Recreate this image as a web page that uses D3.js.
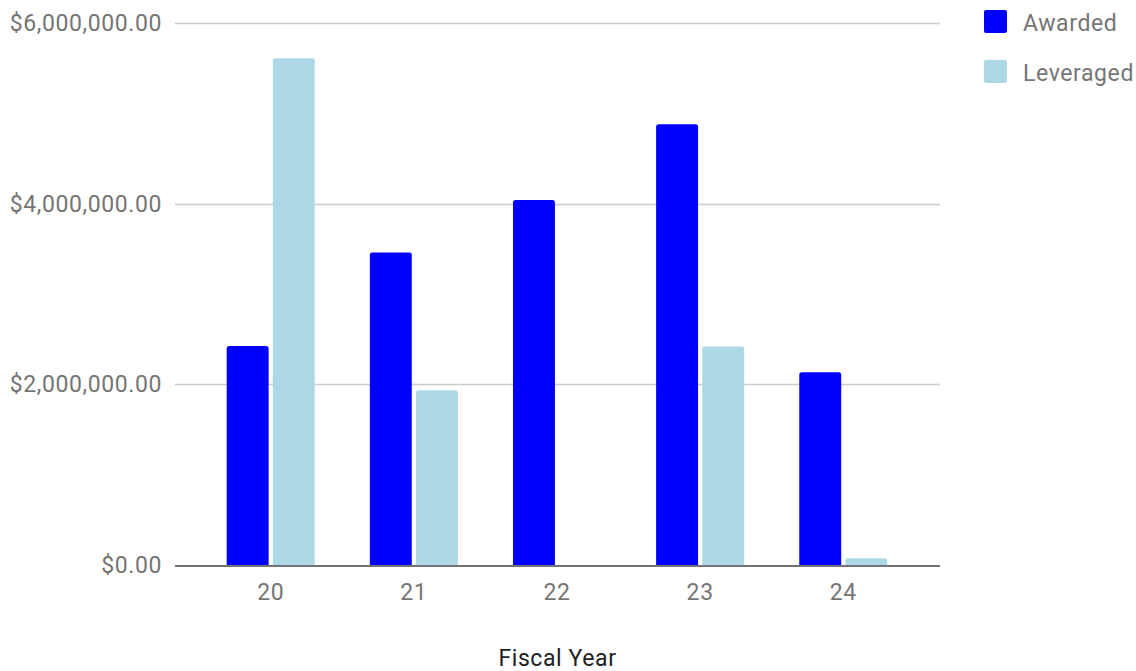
<!DOCTYPE html>
<html>
<head>
<meta charset="utf-8">
<script src="https://cdn.jsdelivr.net/npm/d3@7"></script>
<style>
  html, body { margin: 0; padding: 0; background: #fff; }
  svg { display: block; font-family: Roboto, "Noto Sans", sans-serif; }
  .lbl { font-size: 23px; letter-spacing: 0.6px; font-family: Roboto, sans-serif; }
</style>
</head>
<body>
<svg id="chart" width="1136" height="671"></svg>
<script>
// Fiscal years and the two funding series (US dollars)
const fiscalYears = ["20", "21", "22", "23", "24"];
const seriesNames = ["Awarded", "Leveraged"];
const awarded   = [2425000, 3460000, 4040000, 4880000, 2135000];
const leveraged = [5610000, 1935000, 0, 2420000, 75000];
const yTicks = [0, 2000000, 4000000, 6000000];
const seriesColors = ["#0000ff", "#add8e6"];

const svg = d3.select("#chart");
const plot = { left: 175, right: 940, top: 23, bottom: 565 };

const rows = fiscalYears.map((fy, i) => ({ fy, values: [awarded[i], leveraged[i]] }));

const y = d3.scaleLinear().domain([0, 6000000]).range([plot.bottom, plot.top]);
const x0 = d3.scaleBand().domain(fiscalYears).range([199.5, 914.5]).paddingInner(0.385).paddingOuter(0.19);
const x1 = d3.scaleBand().domain(seriesNames).range([0, x0.bandwidth()]).paddingInner(0.09);

const money = d3.format("$,.2f");

// horizontal gridlines
svg.append("g")
  .selectAll("line")
  .data(yTicks.filter(t => t > 0))
  .join("line")
  .attr("x1", plot.left).attr("x2", plot.right)
  .attr("y1", d => Math.round(y(d)) + 0.5).attr("y2", d => Math.round(y(d)) + 0.5)
  .attr("stroke", "#cccccc").attr("stroke-width", 1.5);

// y axis labels
const yAxis = svg.append("g")
  .attr("transform", `translate(${plot.left},0)`)
  .call(d3.axisLeft(y).tickValues(yTicks).tickFormat(money).tickSize(0).tickPadding(13));
yAxis.select(".domain").remove();
yAxis.selectAll("text").attr("class", "lbl").attr("fill", "#757575").attr("font-size", null).attr("font-family", null);

// bars
const groups = svg.append("g")
  .selectAll("g")
  .data(rows)
  .join("g")
  .attr("transform", d => `translate(${x0(d.fy)},0)`);

function topRounded(xp, yp, w, h, r) {
  if (h <= 0) return "";
  r = Math.min(r, h, w / 2);
  return `M${xp},${yp + h}V${yp + r}Q${xp},${yp} ${xp + r},${yp}H${xp + w - r}Q${xp + w},${yp} ${xp + w},${yp + r}V${yp + h}Z`;
}

groups.selectAll("path")
  .data(d => d.values.map((v, i) => ({ key: seriesNames[i], v, i })))
  .join("path")
  .attr("d", d => topRounded(x1(d.key), y(d.v), x1.bandwidth(), y(0) - y(d.v), 2.5))
  .attr("fill", d => seriesColors[d.i]);

// x axis baseline and labels
const xAxis = svg.append("g")
  .attr("transform", `translate(0,${plot.bottom})`)
  .call(d3.axisBottom(x0).tickSize(0).tickPadding(19));
xAxis.select(".domain").remove();
xAxis.selectAll("text").attr("class", "lbl").attr("fill", "#757575").attr("font-size", null).attr("font-family", null);

svg.append("line")
  .attr("x1", plot.left).attr("x2", plot.right)
  .attr("y1", plot.bottom + 1).attr("y2", plot.bottom + 1)
  .attr("stroke", "#444").attr("stroke-width", 1.5);

// axis title
svg.append("text")
  .attr("class", "lbl")
  .attr("x", (plot.left + plot.right) / 2).attr("y", 666)
  .attr("text-anchor", "middle")
  .attr("fill", "#222")
  .text("Fiscal Year");

// legend
const legend = svg.append("g").attr("transform", "translate(984,10)");
const items = legend.selectAll("g")
  .data(seriesNames)
  .join("g")
  .attr("transform", (d, i) => `translate(0,${i * 50})`);
items.append("rect")
  .attr("width", 23).attr("height", 23).attr("rx", 2)
  .attr("fill", (d, i) => seriesColors[i]);
items.append("text")
  .attr("class", "lbl")
  .attr("x", 39).attr("y", 21)
  .attr("fill", "#757575")
  .text(d => d);
</script>
</body>
</html>
